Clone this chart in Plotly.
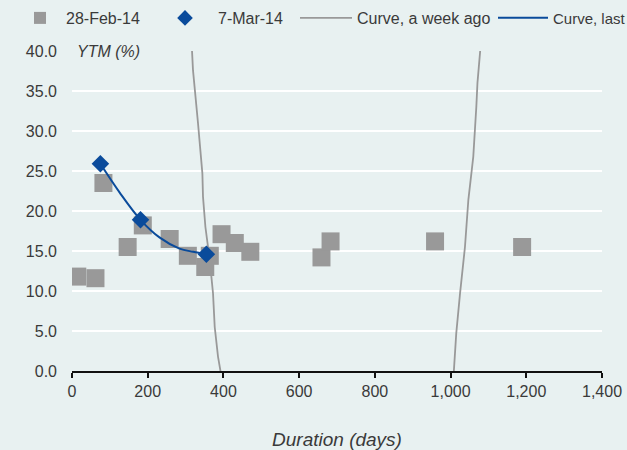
import plotly.graph_objects as go

# 28-Feb-14 observations
feb_duration = [14, 62, 83, 147, 187, 258, 306, 352, 364, 395, 430, 471, 659, 683, 959, 1189]
feb_ytm = [11.8, 11.6, 23.5, 15.5, 18.2, 16.5, 14.4, 13.0, 14.4, 17.1, 16.0, 14.9, 14.2, 16.2, 16.2, 15.5]

# 7-Mar-14 observations
mar_duration = [75, 181, 355]
mar_ytm = [25.9, 18.9, 14.6]

# Curve, a week ago (two visible branches; None separates them)
week_ago_x = [316, 319.6, 332.8, 344.4, 346, 352.4, 363.8, 372.5, 377, 385.7, 394,
              None,
              1080, 1071, 1068, 1060, 1047, 1038, 1025, 1015, 1008]
week_ago_y = [41, 37.6, 31.0, 24.7, 21.8, 18.0, 13.9, 9.7, 5.5, 1.8, -0.5,
              None,
              41, 36.0, 33.0, 26.8, 21.4, 15.5, 9.7, 4.7, -0.5]

# Curve, last week
last_x = [75, 126, 181, 231, 284, 320, 355]
last_y = [25.9, 22.3, 18.9, 16.7, 15.3, 14.9, 14.6]

x_ticks = [0, 200, 400, 600, 800, 1000, 1200, 1400]
y_ticks = [0, 5, 10, 15, 20, 25, 30, 35, 40]

FONT = "Liberation Sans, Arial, sans-serif"
FS = 16
TXT = "#3a3a3a"
GRAY = "#999999"
BLUE = "#0a4b9b"
BG = "#e8f1f1"
W, H = 627, 450

fig = go.Figure()
fig.add_trace(go.Scatter(x=week_ago_x, y=week_ago_y, mode="lines", name="Curve, a week ago",
                         line=dict(color=GRAY, width=1.8), connectgaps=False,
                         legend="legend3"))
fig.add_trace(go.Scatter(x=feb_duration, y=feb_ytm, mode="markers", name="28-Feb-14",
                         marker=dict(symbol="square", size=18, color=GRAY),
                         legend="legend"))
fig.add_trace(go.Scatter(x=last_x, y=last_y, mode="lines", name="Curve, last",
                         line=dict(color=BLUE, width=2, shape="spline"),
                         legend="legend4"))
fig.add_trace(go.Scatter(x=mar_duration, y=mar_ytm, mode="markers", name="7-Mar-14",
                         marker=dict(symbol="diamond", size=13.5, color=BLUE),
                         legend="legend2"))


def leg(x_px, itemwidth, sizing="constant", fs=FS):
    return dict(orientation="h", x=x_px / W, y=1 - 18 / H, xref="container", yref="container",
                xanchor="left", yanchor="middle", itemsizing=sizing,
                itemwidth=itemwidth, font=dict(family=FONT, size=fs, color=TXT),
                bgcolor="rgba(0,0,0,0)", borderwidth=0)


fig.update_layout(
    width=W, height=H,
    margin=dict(l=72, r=25, t=51, b=79, autoexpand=False),
    paper_bgcolor=BG, plot_bgcolor=BG,
    font=dict(family=FONT, size=FS, color=TXT),
    showlegend=True,
    legend=leg(40 - 5 - 21, 42),
    legend2=leg(185 - 5 - 28, 56),
    legend3=leg(300 - 5, 52, "trace"),
    legend4=leg(498 - 5, 50, "trace", 15),
    xaxis=dict(range=[0, 1400], tickvals=x_ticks, tickformat=",", showgrid=False,
               zeroline=False, showline=True, linecolor="#111", linewidth=2,
               ticks="outside", ticklen=5, tickwidth=2, tickcolor="#111",
               title=dict(text="<i>Duration (days)</i>", standoff=35),
               fixedrange=True),
    yaxis=dict(range=[0, 40], tickvals=y_ticks, tickformat=".1f", showgrid=True,
               gridcolor="white", gridwidth=2, zeroline=False, showline=False,
               ticklabelstandoff=14, fixedrange=True),
    annotations=[dict(text="<i>YTM (%)</i>", xref="paper", yref="paper", x=0.005, y=1.0,
                      xanchor="left", yanchor="middle", showarrow=False,
                      font=dict(size=FS, color=TXT))],
)

fig.write_html("out.html")
